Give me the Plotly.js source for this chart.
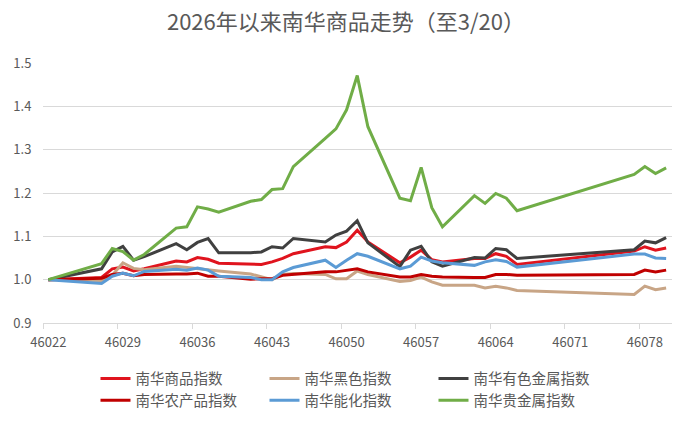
<!DOCTYPE html>
<html>
<head>
<meta charset="utf-8">
<script src="https://cdn.plot.ly/plotly-3.0.1.min.js"></script>
<style>html,body{margin:0;padding:0;background:#fff;}#chart{width:692px;height:424px;}</style>
</head>
<body>
<div id="chart"></div>
<script>
// Excel date serials of trading days
const days = [46022, 46027,46028,46029,46030,46031, 46034,46035,46036,46037,46038,
  46041,46042,46043,46044,46045, 46048,46049,46050,46051,46052,
  46055,46056,46057,46058,46059, 46062,46063,46064,46065,46066,
  46077,46078,46079,46080];

const nhComposite = [1.000, 1.005,1.025,1.029,1.020,1.025, 1.043,1.041,1.051,1.047,1.038,
  1.037,1.035,1.041,1.049,1.060, 1.076,1.074,1.087,1.114,1.087,
  1.039,1.052,1.068,1.046,1.041, 1.049,1.049,1.060,1.054,1.035,
  1.066,1.076,1.068,1.073];

const nhBlack = [1.000, 0.998,1.010,1.039,1.026,1.023, 1.031,1.028,1.026,1.022,1.020,
  1.013,1.006,1.000,1.012,1.014, 1.012,1.002,1.002,1.020,1.012,
  0.996,0.998,1.006,0.995,0.987, 0.987,0.981,0.985,0.981,0.975,
  0.966,0.985,0.977,0.981];

const nhNonferrous = [1.000, 1.025,1.064,1.077,1.045,1.053, 1.083,1.069,1.086,1.095,1.062,
  1.062,1.064,1.076,1.073,1.095, 1.087,1.103,1.112,1.136,1.085,
  1.030,1.068,1.077,1.041,1.031, 1.051,1.050,1.072,1.069,1.049,
  1.069,1.089,1.085,1.097];

const nhAgri = [1.000, 1.003,1.012,1.015,1.009,1.012, 1.013,1.013,1.015,1.008,1.008,
  1.001,1.002,1.002,1.010,1.012, 1.018,1.018,1.022,1.025,1.018,
  1.006,1.006,1.012,1.008,1.006, 1.005,1.005,1.012,1.012,1.010,
  1.012,1.022,1.018,1.022];

const nhEnergyChem = [1.000, 0.991,1.008,1.015,1.009,1.019, 1.024,1.022,1.027,1.022,1.008,
  1.005,1.000,1.000,1.018,1.028, 1.045,1.028,1.045,1.060,1.054,
  1.025,1.031,1.052,1.043,1.039, 1.033,1.041,1.046,1.042,1.029,
  1.059,1.059,1.050,1.049];

const nhPrecious = [1.000, 1.037,1.072,1.065,1.045,1.058, 1.119,1.122,1.168,1.163,1.156,
  1.181,1.185,1.208,1.210,1.261, 1.326,1.348,1.392,1.471,1.353,
  1.188,1.182,1.259,1.166,1.122, 1.194,1.176,1.199,1.188,1.159,
  1.243,1.261,1.245,1.258];

const seriesNames = ['南华商品指数','南华黑色指数','南华有色金属指数','南华农产品指数','南华能化指数','南华贵金属指数'];
const seriesValues = [nhComposite, nhBlack, nhNonferrous, nhAgri, nhEnergyChem, nhPrecious];
const seriesColors = ['#E0141E','#C8A586','#404040','#C00000','#5B9BD5','#70AD47'];

const xTickVals = [46022,46029,46036,46043,46050,46057,46064,46071,46078];
const yTickVals = [0.9,1.0,1.1,1.2,1.3,1.4,1.5];

const FONT = '"Noto Sans CJK SC", "Noto Sans", sans-serif';
const GRID = '#D9D9D9';
const TXT = '#595959';
const xRange = [46021.5, 46080.55];

const traces = seriesNames.map((n, i) => ({
  type: 'scatter', mode: 'lines', name: n,
  x: days, y: seriesValues[i],
  line: {color: seriesColors[i], width: 3}
}));
traces.push({type:'scatter', mode:'lines', x:[xRange[0]], y:[null], xaxis:'x2', yaxis:'y', showlegend:false, hoverinfo:'skip'});

const layout = {
  width: 692, height: 424,
  margin: {l: 43, r: 20, t: 63, b: 101},
  paper_bgcolor: '#fff', plot_bgcolor: '#fff',
  font: {family: FONT, color: TXT, size: 12},
  title: {text: '2026年以来南华商品走势（至3/20）', font: {family: FONT, size: 22, color: TXT},
    x: 0.5, xanchor: 'center', y: 0.948, yanchor: 'middle', xref: 'container', yref: 'container'},
  xaxis: {
    range: xRange, tickmode: 'array', tickvals: xTickVals, ticktext: xTickVals.map(String),
    showgrid: false, zeroline: false, showline: true, linecolor: GRID, linewidth: 1,
    ticks: 'outside', ticklen: 7, tickcolor: 'rgba(0,0,0,0)',
    tickfont: {family: FONT, size: 13, color: TXT}
  },
  xaxis2: {
    overlaying: 'x', anchor: 'y', side: 'bottom', range: xRange,
    tickmode: 'array', tickvals: xTickVals.map(v => v - 0.5),
    showticklabels: false, showgrid: false, zeroline: false, showline: false,
    ticks: 'outside', ticklen: 5, tickcolor: GRID, tickwidth: 1
  },
  yaxis: {
    range: [0.9, 1.5], tickmode: 'array', tickvals: yTickVals, tickformat: '.1f',
    showgrid: true, gridcolor: GRID, gridwidth: 1, zeroline: false, showline: false,
    ticks: 'outside', ticklen: 8, tickcolor: 'rgba(0,0,0,0)',
    tickfont: {family: FONT, size: 13, color: TXT}
  },
  legend: {
    orientation: 'h', xref: 'container', yref: 'container',
    x: 0.138, xanchor: 'left', y: 0.145, yanchor: 'top',
    entrywidth: 124, entrywidthmode: 'pixels',
    font: {family: FONT, size: 14.5, color: TXT},
    itemwidth: 30, tracegroupgap: 0, bgcolor: 'rgba(0,0,0,0)'
  },
  showlegend: true
};

Plotly.newPlot('chart', traces, layout, {displayModeBar: false, staticPlot: true});
</script>
</body>
</html>
